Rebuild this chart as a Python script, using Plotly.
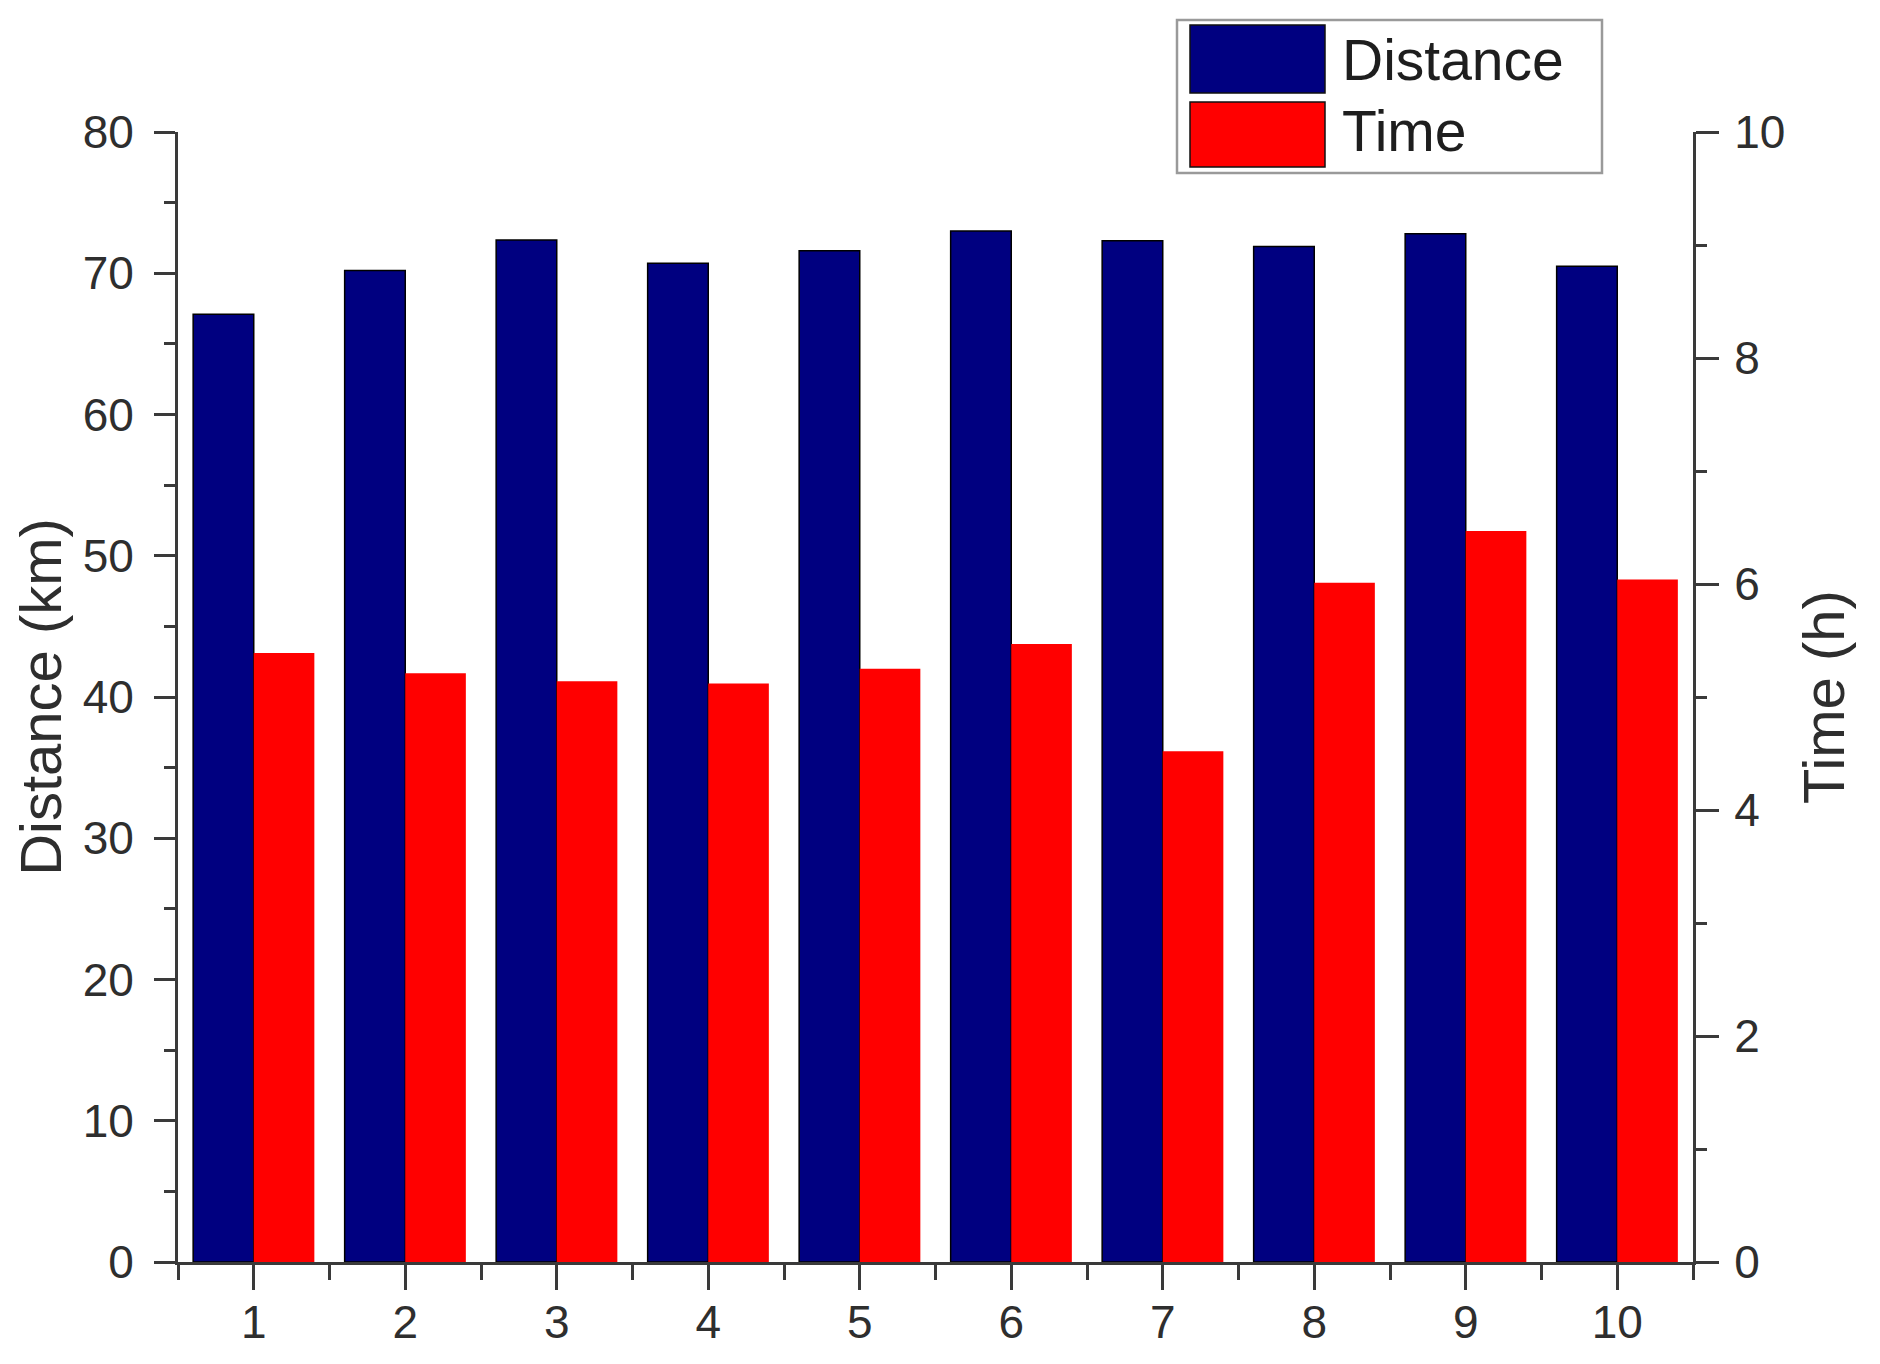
import plotly.graph_objects as go

runs = [1, 2, 3, 4, 5, 6, 7, 8, 9, 10]
distance_km = [67.1, 70.2, 72.35, 70.7, 71.6, 73.0, 72.3, 71.9, 72.8, 70.5]
time_h = [5.39, 5.21, 5.14, 5.12, 5.25, 5.47, 4.52, 6.01, 6.47, 6.04]
series_names = ["Distance", "Time"]
series_colors = ["#000080", "#FF0000"]

FONT = "Liberation Sans, Arial, sans-serif"
AX = "#3a3a3a"
TXT = "#2e2e2e"

fig = go.Figure()
fig.add_trace(go.Bar(
    x=runs, y=distance_km, name=series_names[0], yaxis="y",
    offset=-0.4, width=0.4,
    marker=dict(color=series_colors[0], line=dict(color="#000000", width=1.5)),
    showlegend=False,
))
fig.add_trace(go.Bar(
    x=runs, y=time_h, name=series_names[1], yaxis="y2",
    offset=0.0, width=0.4,
    marker=dict(color=series_colors[1], line=dict(color="#FF0000", width=0)),
    showlegend=False,
))

tickfont = dict(family=FONT, size=46, color=TXT)

# page has an 8px body margin, so the figure is sized to fit the 1880x1364 window
fig.update_layout(
    width=1872, height=1356,
    margin=dict(l=170, r=187, t=124, b=102, autoexpand=False),
    paper_bgcolor="white", plot_bgcolor="white",
    barmode="overlay",
    xaxis=dict(
        range=[0.5, 10.5], tickmode="array", tickvals=runs,
        ticktext=[str(r) for r in runs],
        showgrid=False, zeroline=False,
        showline=True, linecolor=AX, linewidth=3,
        ticks="outside", ticklen=25, tickwidth=3, tickcolor=AX,
        tickfont=tickfont, ticklabelstandoff=-7,
        minor=dict(tickmode="array", tickvals=[r - 0.5 for r in runs] + [10.5],
                   ticks="outside", ticklen=15, tickwidth=3, tickcolor=AX),
        fixedrange=True,
    ),
    yaxis=dict(
        range=[0, 80], tickmode="linear", tick0=0, dtick=10,
        showgrid=False, zeroline=False,
        showline=True, linecolor=AX, linewidth=3,
        ticks="outside", ticklen=21, tickwidth=3, tickcolor=AX,
        tickfont=tickfont, ticklabelstandoff=11,
        minor=dict(dtick=5, ticks="outside", ticklen=11, tickwidth=3, tickcolor=AX),
        title=dict(text="Distance (km)", font=dict(family=FONT, size=58, color=TXT), standoff=14),
        automargin=False,
    ),
    yaxis2=dict(
        range=[0, 10], tickmode="linear", tick0=0, dtick=2,
        overlaying="y", side="right", anchor="x",
        showgrid=False, zeroline=False,
        showline=True, linecolor=AX, linewidth=3,
        ticks="outside", ticklen=23, tickwidth=3, tickcolor=AX,
        tickfont=tickfont, ticklabelstandoff=6,
        minor=dict(dtick=1, ticks="outside", ticklen=11, tickwidth=3, tickcolor=AX),
        title=dict(text="Time (h)", font=dict(family=FONT, size=58, color=TXT), standoff=20),
        automargin=False,
    ),
)

# custom legend (large swatches as in the reference); positions in paper units
def px2x(p):
    return (p - 178) / 1515.0

def py2y(p):
    return (1262 - p) / 1130.0

fig.add_shape(type="rect", xref="paper", yref="paper",
              x0=px2x(1177), x1=px2x(1602), y0=py2y(173), y1=py2y(20),
              line=dict(color="#9a9a9a", width=2.5), fillcolor="white", layer="above")
legend_rows = [(25, 93, 60), (102, 167, 131)]
for (ytop, ybot, ymid), name, col in zip(legend_rows, series_names, series_colors):
    fig.add_shape(type="rect", xref="paper", yref="paper",
                  x0=px2x(1190), x1=px2x(1325), y0=py2y(ybot), y1=py2y(ytop),
                  line=dict(color="#111111", width=1.5), fillcolor=col, layer="above")
    fig.add_annotation(xref="paper", yref="paper", x=px2x(1340), y=py2y(ymid),
                       text=name, showarrow=False, xanchor="left", yanchor="middle",
                       font=dict(family=FONT, size=57, color="#1e1e1e"))

fig.write_html("out.html")
